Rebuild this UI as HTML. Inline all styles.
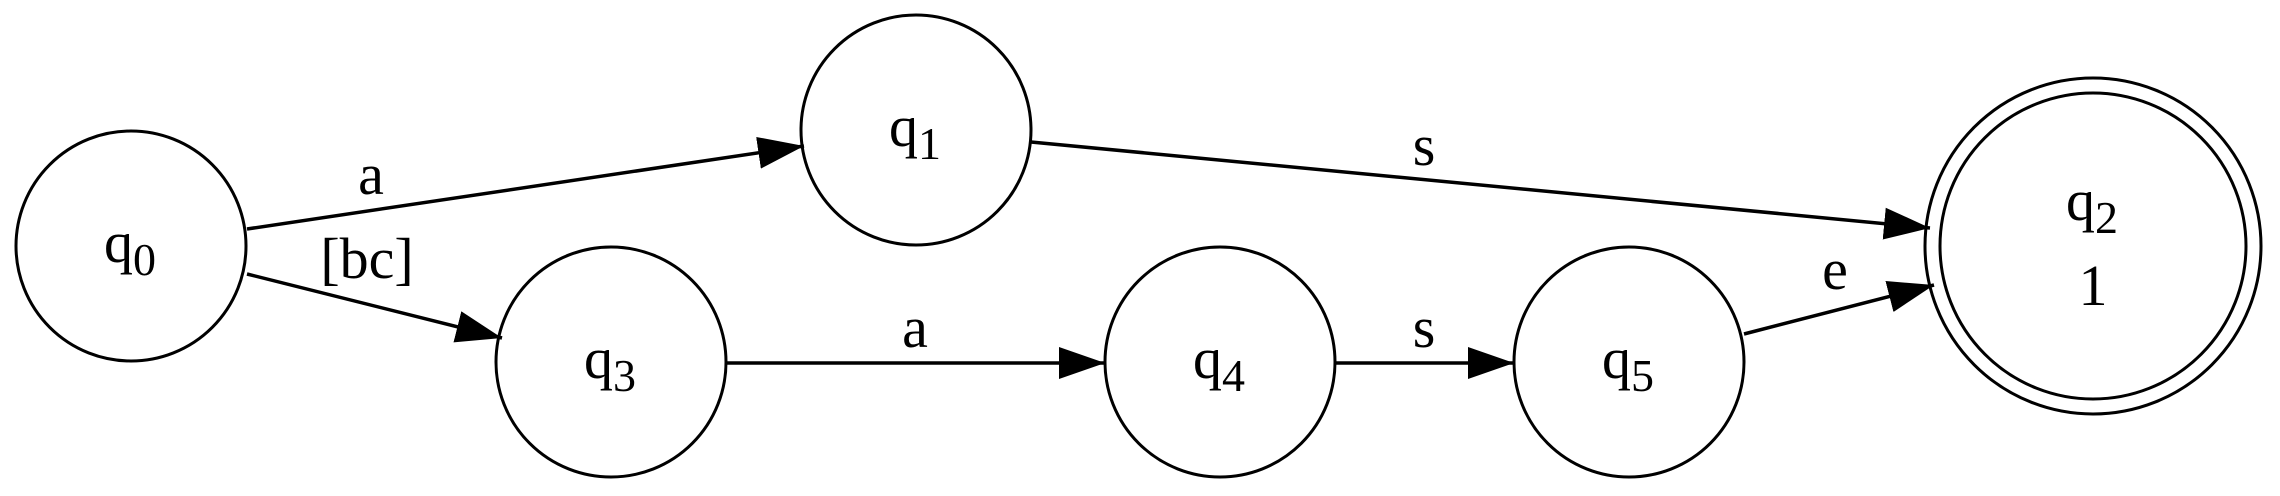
<!DOCTYPE html>
<html><head><meta charset="utf-8"><style>
html,body{margin:0;padding:0;background:#fff;}
svg{display:block;}
text{font-family:"Liberation Serif",serif;fill:#000;}
</style></head><body>
<svg width="2280" height="496" viewBox="0 0 2280 496" xmlns="http://www.w3.org/2000/svg">
<defs>
<marker id="ah" markerUnits="userSpaceOnUse" markerWidth="50" markerHeight="34" refX="46" refY="16" orient="auto">
<polygon points="0,0 46,16 0,32" fill="#000"/>
</marker>
</defs>
<g fill="none" stroke="#000" stroke-width="3">
<circle cx="131" cy="246" r="115"/>
<circle cx="916" cy="130" r="115"/>
<circle cx="611" cy="362" r="115"/>
<circle cx="1220" cy="362" r="115"/>
<circle cx="1629" cy="362" r="115"/>
<circle cx="2093" cy="246" r="168"/>
<circle cx="2093" cy="246" r="153"/>
</g>
<g stroke="#000" stroke-width="3.5" fill="none">
<line x1="247" y1="229" x2="804" y2="146" marker-end="url(#ah)"/>
<line x1="247" y1="274" x2="502" y2="338" marker-end="url(#ah)"/>
<line x1="1031" y1="142" x2="1930" y2="228" marker-end="url(#ah)"/>
<line x1="726" y1="363" x2="1105" y2="363" marker-end="url(#ah)"/>
<line x1="1335" y1="363" x2="1514" y2="363" marker-end="url(#ah)"/>
<line x1="1744" y1="334" x2="1934" y2="285" marker-end="url(#ah)"/>
</g>
<g font-size="58">
<text x="130" y="262" text-anchor="middle">q<tspan font-size="46" dy="13">0</tspan></text>
<text x="915" y="146" text-anchor="middle">q<tspan font-size="46" dy="13">1</tspan></text>
<text x="610" y="378" text-anchor="middle">q<tspan font-size="46" dy="13">3</tspan></text>
<text x="1219" y="378" text-anchor="middle">q<tspan font-size="46" dy="13">4</tspan></text>
<text x="1628" y="378" text-anchor="middle">q<tspan font-size="46" dy="13">5</tspan></text>
<text x="2092" y="220" text-anchor="middle">q<tspan font-size="46" dy="13">2</tspan></text>
<text x="2093" y="305" text-anchor="middle">1</text>
<text x="371" y="194" text-anchor="middle">a</text>
<text x="367" y="278" text-anchor="middle">[bc]</text>
<text x="1424" y="165" text-anchor="middle">s</text>
<text x="915" y="347" text-anchor="middle">a</text>
<text x="1424" y="347" text-anchor="middle">s</text>
<text x="1835" y="289" text-anchor="middle">e</text>
</g>
</svg>
</body></html>
